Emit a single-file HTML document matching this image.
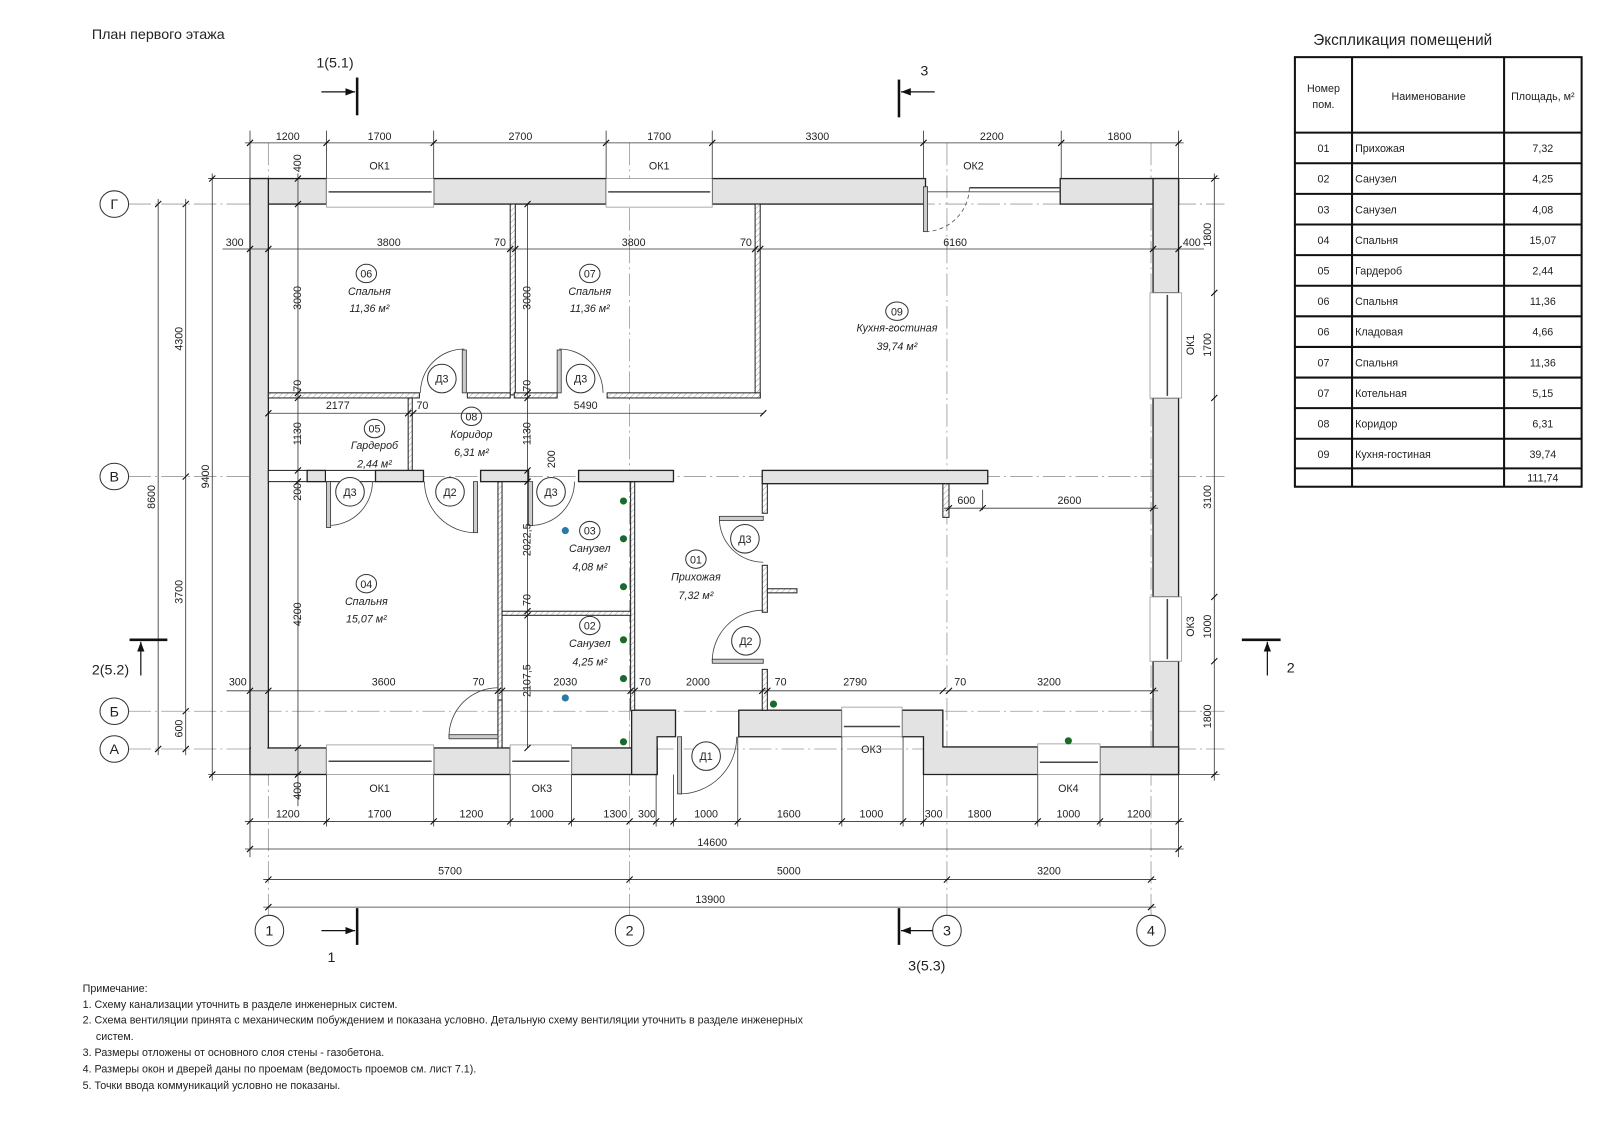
<!DOCTYPE html>
<html><head><meta charset="utf-8"><style>
html,body{margin:0;padding:0;background:#fff;}
svg{display:block;}
text{font-family:"Liberation Sans",sans-serif;fill:#222;}
.d{font-size:10.5px;text-anchor:middle;}
.r{font-size:10.5px;text-anchor:middle;font-style:italic;}
.w{fill:#e3e3e3;stroke:#222;stroke-width:1.3;}
.t{fill:#fff;stroke:#222;stroke-width:1;}
.h{fill:url(#hat);stroke:#222;stroke-width:1;}
.l{stroke:#333;stroke-width:0.8;fill:none;}
.ax{stroke:#999;stroke-width:0.8;stroke-dasharray:22,4,2,4;fill:none;}
.c{fill:#fff;stroke:#333;stroke-width:1;}
.win{fill:#fff;stroke:#999;stroke-width:0.8;}
</style></head><body>
<svg width="1600" height="1130" viewBox="0 0 1568 1107.4" preserveAspectRatio="none" xmlns="http://www.w3.org/2000/svg">
<defs>
<pattern id="hat" width="4" height="4" patternUnits="userSpaceOnUse" patternTransform="rotate(45)">
<rect width="4" height="4" fill="#fff"/><line x1="0" y1="0" x2="0" y2="4" stroke="#888" stroke-width="0.8"/></pattern>
<marker id="ar" markerWidth="8" markerHeight="6" refX="8" refY="3" orient="auto"><path d="M0,0 L8,3 L0,6 z" fill="#111"/></marker>
</defs>

<text x="90" y="38" style="font-size:14px">План первого этажа</text>

<!-- axis lines -->
<g class="ax">
<line x1="126" y1="200" x2="1200" y2="200"/><line x1="126" y1="467" x2="1200" y2="467"/>
<line x1="126" y1="697" x2="1200" y2="697"/><line x1="126" y1="734" x2="1200" y2="734"/>
<line x1="263" y1="140" x2="263" y2="898"/><line x1="617" y1="140" x2="617" y2="898"/>
<line x1="928" y1="140" x2="928" y2="898"/><line x1="1128" y1="140" x2="1128" y2="898"/>
</g>

<!-- outer walls -->
<rect class="w" x="245" y="175" width="75" height="25"/>
<rect class="w" x="425" y="175" width="169" height="25"/>
<rect class="w" x="698" y="175" width="209" height="25"/>
<rect class="w" x="1039" y="175" width="116" height="25"/>
<rect class="w" x="245" y="175" width="18" height="584"/>
<rect class="w" x="1130" y="175" width="25" height="112"/>
<rect class="w" x="1130" y="390" width="25" height="195"/>
<rect class="w" x="1130" y="648" width="25" height="111"/>
<rect class="w" x="245" y="733" width="75" height="26"/>
<rect class="w" x="425" y="733" width="75" height="26"/>
<rect class="w" x="560" y="733" width="84" height="26"/>
<polygon class="w" points="619,696 662,696 662,722 644,722 644,759 619,759"/>
<rect class="w" x="724" y="696" width="101" height="26"/>
<polygon class="w" points="884,696 924,696 924,732 1017,732 1017,759 905,759 905,722 884,722"/>
<rect class="w" x="1078" y="732" width="77" height="27"/>
<rect x="246" y="176" width="16" height="582" fill="#e3e3e3"/>
<rect x="1131" y="176" width="23" height="24" fill="#e3e3e3"/>
<rect x="246" y="734" width="16" height="24" fill="#e3e3e3"/>

<!-- windows -->
<g>
<rect class="win" x="320" y="175" width="105" height="28"/><line x1="322" y1="188" x2="423" y2="188" stroke="#444" stroke-width="1.5"/>
<rect class="win" x="594" y="175" width="104" height="28"/><line x1="596" y1="188" x2="696" y2="188" stroke="#444" stroke-width="1.5"/>
<line x1="950" y1="184" x2="1039" y2="184" stroke="#444" stroke-width="1.5"/><line x1="907" y1="188" x2="1039" y2="188" stroke="#444" stroke-width="0.8"/>
<rect class="win" x="1127" y="287" width="31" height="103"/><line x1="1144" y1="289" x2="1144" y2="388" stroke="#444" stroke-width="1.5"/>
<rect class="win" x="1127" y="585" width="31" height="63"/><line x1="1144" y1="587" x2="1144" y2="646" stroke="#444" stroke-width="1.5"/>
<rect class="win" x="320" y="730" width="105" height="29"/><line x1="322" y1="746" x2="423" y2="746" stroke="#444" stroke-width="1.5"/>
<rect class="win" x="500" y="730" width="60" height="29"/><line x1="502" y1="746" x2="558" y2="746" stroke="#444" stroke-width="1.5"/>
<rect class="win" x="825" y="693" width="59" height="29"/><line x1="827" y1="712" x2="882" y2="712" stroke="#444" stroke-width="1.5"/>
<rect class="win" x="1017" y="729" width="61" height="30"/><line x1="1019" y1="747" x2="1076" y2="747" stroke="#444" stroke-width="1.5"/>
</g>
<!-- OK2 door -->
<rect x="905" y="183" width="4" height="44" fill="#ccc" stroke="#333" stroke-width="0.8"/>
<path d="M907,227 A44,44 0 0 0 950,184" fill="none" stroke="#555" stroke-width="0.8" stroke-dasharray="4,3"/>

<!-- thin partitions -->
<g>
<rect class="h" x="500" y="200" width="5" height="187"/>
<rect class="h" x="740" y="200" width="5" height="190"/>
<rect class="h" x="263" y="385" width="148" height="5"/>
<rect class="h" x="458" y="385" width="42" height="5"/>
<rect class="h" x="504" y="385" width="42" height="5"/>
<rect class="h" x="595" y="385" width="150" height="5"/>
<rect class="h" x="400" y="390" width="4" height="71"/>
<rect class="h" x="488" y="472" width="4" height="261"/>
<rect class="h" x="618" y="472" width="4" height="224"/>
<rect class="h" x="492" y="599" width="126" height="4"/>
<rect class="h" x="747" y="474" width="5" height="29"/>
<rect class="h" x="747" y="554" width="5" height="46"/>
<rect class="h" x="747" y="656" width="5" height="40"/>
<rect class="h" x="752" y="577" width="29" height="4"/>
<rect class="h" x="924" y="474" width="6" height="33"/>
<rect class="h" x="488" y="686" width="4" height="47"/>
</g>
<!-- wall at axis В -->
<rect class="t" x="263" y="461" width="38" height="11"/>
<rect class="w" x="301" y="461" width="18" height="11"/>
<rect class="t" x="319" y="461" width="49" height="11"/>
<rect class="w" x="368" y="461" width="47" height="11"/>
<rect class="w" x="471" y="461" width="47" height="11"/>
<rect class="w" x="567" y="461" width="93" height="11"/>
<rect class="w" x="747" y="461" width="221" height="13"/>

<!-- doors -->
<g fill="none" stroke="#444" stroke-width="0.8">
<path d="M412,385 A43,43 0 0 1 455,342"/>
<path d="M591,385 A43,43 0 0 0 548,342"/>
<path d="M322,515 A43,43 0 0 0 365,472"/>
<path d="M416,472 A50,50 0 0 0 466,522"/>
<path d="M520,515 A43,43 0 0 0 563,472"/>
<path d="M705,508 A43,43 0 0 0 748,551"/>
<path d="M698,648 A50,50 0 0 1 748,598"/>
<path d="M722,722 A56,56 0 0 1 666,778"/>
<path d="M440,722 A48,48 0 0 1 488,674"/>
</g>
<g fill="#ccc" stroke="#333" stroke-width="0.8">
<rect x="453" y="343" width="4" height="42"/>
<rect x="546" y="343" width="4" height="42"/>
<rect x="320" y="472" width="4" height="45"/>
<rect x="464" y="472" width="4" height="50"/>
<rect x="518" y="472" width="4" height="43"/>
<rect x="705" y="506" width="43" height="4"/>
<rect x="698" y="646" width="50" height="4"/>
<rect x="664" y="722" width="4" height="56"/>
<rect x="440" y="720" width="48" height="4"/>
</g>
<g>
<circle class="c" cx="433" cy="371" r="14"/><text class="d" x="433" y="375">Д3</text>
<circle class="c" cx="569" cy="371" r="14"/><text class="d" x="569" y="375">Д3</text>
<circle class="c" cx="343" cy="482" r="14"/><text class="d" x="343" y="486">Д3</text>
<circle class="c" cx="441" cy="482" r="14"/><text class="d" x="441" y="486">Д2</text>
<circle class="c" cx="540" cy="482" r="14"/><text class="d" x="540" y="486">Д3</text>
<circle class="c" cx="730" cy="528" r="14"/><text class="d" x="730" y="532">Д3</text>
<circle class="c" cx="731" cy="628" r="14"/><text class="d" x="731" y="632">Д2</text>
<circle class="c" cx="692" cy="741" r="14"/><text class="d" x="692" y="745">Д1</text>
</g>

<!-- dots -->
<g fill="#1a6b2a"><circle cx="611" cy="491" r="3.5"/><circle cx="611" cy="528" r="3.5"/><circle cx="611" cy="575" r="3.5"/><circle cx="611" cy="627" r="3.5"/><circle cx="611" cy="665" r="3.5"/><circle cx="611" cy="727" r="3.5"/><circle cx="758" cy="690" r="3.5"/><circle cx="1047" cy="726" r="3.5"/></g>
<g fill="#2a7aa8"><circle cx="554" cy="520" r="3.5"/><circle cx="554" cy="684" r="3.5"/></g>

<!-- room labels -->
<g>
<ellipse class="c" cx="359" cy="268" rx="10" ry="9"/><text class="d" x="359" y="272">06</text>
<text class="r" x="362" y="289">Спальня</text><text class="r" x="362" y="306">11,36 м²</text>
<ellipse class="c" cx="578" cy="268" rx="10" ry="9"/><text class="d" x="578" y="272">07</text>
<text class="r" x="578" y="289">Спальня</text><text class="r" x="578" y="306">11,36 м²</text>
<ellipse class="c" cx="879" cy="305" rx="11" ry="9"/><text class="d" x="879" y="309">09</text>
<text class="r" x="879" y="325">Кухня-гостиная</text><text class="r" x="879" y="343">39,74 м²</text>
<ellipse class="c" cx="367" cy="420" rx="10" ry="9"/><text class="d" x="367" y="424">05</text>
<text class="r" x="367" y="440">Гардероб</text><text class="r" x="367" y="458">2,44 м²</text>
<ellipse class="c" cx="462" cy="408" rx="10" ry="9"/><text class="d" x="462" y="412">08</text>
<text class="r" x="462" y="429">Коридор</text><text class="r" x="462" y="447">6,31 м²</text>
<ellipse class="c" cx="578" cy="520" rx="10" ry="9"/><text class="d" x="578" y="524">03</text>
<text class="r" x="578" y="541">Санузел</text><text class="r" x="578" y="559">4,08 м²</text>
<ellipse class="c" cx="578" cy="613" rx="10" ry="9"/><text class="d" x="578" y="617">02</text>
<text class="r" x="578" y="634">Санузел</text><text class="r" x="578" y="652">4,25 м²</text>
<ellipse class="c" cx="682" cy="548" rx="10" ry="9"/><text class="d" x="682" y="552">01</text>
<text class="r" x="682" y="569">Прихожая</text><text class="r" x="682" y="587">7,32 м²</text>
<ellipse class="c" cx="359" cy="572" rx="10" ry="9"/><text class="d" x="359" y="576">04</text>
<text class="r" x="359" y="593">Спальня</text><text class="r" x="359" y="610">15,07 м²</text>
</g>

<!-- dimension lines -->
<g class="l">
<line x1="240" y1="140" x2="1160" y2="140"/>
<line x1="245" y1="128" x2="245" y2="175"/><line x1="320" y1="128" x2="320" y2="175"/><line x1="425" y1="128" x2="425" y2="175"/><line x1="594" y1="128" x2="594" y2="175"/><line x1="698" y1="128" x2="698" y2="175"/><line x1="905" y1="128" x2="905" y2="175"/><line x1="1040" y1="128" x2="1040" y2="175"/><line x1="1155" y1="128" x2="1155" y2="175"/>
<line x1="218" y1="244" x2="1180" y2="244"/>
<line x1="263" y1="405" x2="748" y2="405"/>
<line x1="925" y1="498" x2="1135" y2="498"/><line x1="963" y1="480" x2="963" y2="500"/>
<line x1="222" y1="677" x2="1135" y2="677"/>
<line x1="292" y1="170" x2="292" y2="790"/>
<line x1="517" y1="200" x2="517" y2="733"/>
<line x1="1190" y1="170" x2="1190" y2="765"/>
<line x1="1155" y1="175" x2="1195" y2="175"/><line x1="1155" y1="759" x2="1195" y2="759"/>
<line x1="155" y1="195" x2="155" y2="740"/><line x1="182" y1="195" x2="182" y2="740"/><line x1="208" y1="170" x2="208" y2="765"/>
<line x1="204" y1="175" x2="245" y2="175"/><line x1="204" y1="759" x2="245" y2="759"/>
<line x1="240" y1="805" x2="1160" y2="805"/>
<line x1="245" y1="759" x2="245" y2="840"/><line x1="320" y1="759" x2="320" y2="810"/><line x1="425" y1="759" x2="425" y2="810"/><line x1="500" y1="759" x2="500" y2="810"/><line x1="560" y1="759" x2="560" y2="810"/><line x1="643" y1="759" x2="643" y2="810"/><line x1="660" y1="759" x2="660" y2="810"/><line x1="723" y1="722" x2="723" y2="810"/><line x1="825" y1="722" x2="825" y2="810"/><line x1="885" y1="722" x2="885" y2="810"/><line x1="905" y1="759" x2="905" y2="810"/><line x1="1017" y1="759" x2="1017" y2="810"/><line x1="1078" y1="759" x2="1078" y2="810"/><line x1="1155" y1="759" x2="1155" y2="840"/>
<line x1="240" y1="832" x2="1160" y2="832"/>
<line x1="258" y1="862" x2="1133" y2="862"/>
<line x1="258" y1="889" x2="1133" y2="889"/>
</g>
<!-- ticks -->
<g stroke="#111" stroke-width="1.1">
<path d="M242,143l6,-6M317,143l6,-6M422,143l6,-6M591,143l6,-6M695,143l6,-6M902,143l6,-6M1037,143l6,-6M1152,143l6,-6"/>
<path d="M242,247l6,-6M260,247l6,-6M497,247l6,-6M502,247l6,-6M737,247l6,-6M742,247l6,-6M1127,247l6,-6M1152,247l6,-6"/>
<path d="M260,408l6,-6M397,408l6,-6M402,408l6,-6M745,408l6,-6"/>
<path d="M927,501l6,-6M960,501l6,-6M1127,501l6,-6"/>
<path d="M242,680l6,-6M260,680l6,-6M485,680l6,-6M489,680l6,-6M615,680l6,-6M619,680l6,-6M744,680l6,-6M749,680l6,-6M921,680l6,-6M927,680l6,-6M1127,680l6,-6"/>
<path d="M289,178l6,-6M289,203l6,-6M289,388l6,-6M289,393l6,-6M289,464l6,-6M289,475l6,-6M289,736l6,-6M289,762l6,-6"/>
<path d="M514,203l6,-6M514,388l6,-6M514,393l6,-6M514,464l6,-6M514,475l6,-6M514,602l6,-6M514,606l6,-6M514,736l6,-6"/>
<path d="M1187,178l6,-6M1187,290l6,-6M1187,393l6,-6M1187,588l6,-6M1187,651l6,-6M1187,762l6,-6"/>
<path d="M152,203l6,-6M152,737l6,-6M179,203l6,-6M179,470l6,-6M179,700l6,-6M179,737l6,-6M205,178l6,-6M205,762l6,-6"/>
<path d="M242,808l6,-6M317,808l6,-6M422,808l6,-6M497,808l6,-6M557,808l6,-6M614,808l6,-6M640,808l6,-6M657,808l6,-6M720,808l6,-6M822,808l6,-6M882,808l6,-6M902,808l6,-6M1014,808l6,-6M1075,808l6,-6M1152,808l6,-6"/>
<path d="M242,835l6,-6M1152,835l6,-6M260,865l6,-6M614,865l6,-6M925,865l6,-6M1125,865l6,-6M260,892l6,-6M1125,892l6,-6"/>
</g>

<!-- dimension texts -->
<g class="d">
<text x="282" y="137">1200</text><text x="372" y="137">1700</text><text x="510" y="137">2700</text><text x="646" y="137">1700</text><text x="801" y="137">3300</text><text x="972" y="137">2200</text><text x="1097" y="137">1800</text>
<text x="372" y="166">ОК1</text><text x="646" y="166">ОК1</text><text x="954" y="166">ОК2</text>
<text x="230" y="241">300</text><text x="381" y="241">3800</text><text x="490" y="241">70</text><text x="621" y="241">3800</text><text x="731" y="241">70</text><text x="936" y="241">6160</text><text x="1168" y="241">400</text>
<text x="331" y="401">2177</text><text x="414" y="401">70</text><text x="574" y="401">5490</text>
<text x="947" y="494">600</text><text x="1048" y="494">2600</text>
<text x="233" y="672">300</text><text x="376" y="672">3600</text><text x="469" y="672">70</text><text x="554" y="672">2030</text><text x="632" y="672">70</text><text x="684" y="672">2000</text><text x="765" y="672">70</text><text x="838" y="672">2790</text><text x="941" y="672">70</text><text x="1028" y="672">3200</text>
<text x="854" y="738">ОК3</text>
<text x="372" y="776">ОК1</text><text x="531" y="776">ОК3</text><text x="1047" y="776">ОК4</text>
<text x="282" y="801">1200</text><text x="372" y="801">1700</text><text x="462" y="801">1200</text><text x="531" y="801">1000</text><text x="603" y="801">1300</text><text x="634" y="801">300</text><text x="692" y="801">1000</text><text x="773" y="801">1600</text><text x="854" y="801">1000</text><text x="915" y="801">300</text><text x="960" y="801">1800</text><text x="1047" y="801">1000</text><text x="1116" y="801">1200</text>
<text x="698" y="829">14600</text>
<text x="441" y="857">5700</text><text x="773" y="857">5000</text><text x="1028" y="857">3200</text>
<text x="696" y="885">13900</text>
</g>
<g class="d">
<text transform="translate(291,160) rotate(-90)" y="4">400</text>
<text transform="translate(291,292) rotate(-90)" y="4">3000</text>
<text transform="translate(291,378) rotate(-90)" y="4">70</text>
<text transform="translate(291,425) rotate(-90)" y="4">1130</text>
<text transform="translate(291,482) rotate(-90)" y="4">200</text>
<text transform="translate(291,602) rotate(-90)" y="4">4200</text>
<text transform="translate(291,775) rotate(-90)" y="4">400</text>
<text transform="translate(516,292) rotate(-90)" y="4">3000</text>
<text transform="translate(516,378) rotate(-90)" y="4">70</text>
<text transform="translate(516,425) rotate(-90)" y="4">1130</text>
<text transform="translate(540,450) rotate(-90)" y="4">200</text>
<text transform="translate(516,529) rotate(-90)" y="4">2022,5</text>
<text transform="translate(516,588) rotate(-90)" y="4">70</text>
<text transform="translate(516,667) rotate(-90)" y="4">2107,5</text>
<text transform="translate(1183,230) rotate(-90)" y="4">1800</text>
<text transform="translate(1183,338) rotate(-90)" y="4">1700</text>
<text transform="translate(1166,338) rotate(-90)" y="4">ОК1</text>
<text transform="translate(1183,487) rotate(-90)" y="4">3100</text>
<text transform="translate(1183,614) rotate(-90)" y="4">1000</text>
<text transform="translate(1166,614) rotate(-90)" y="4">ОК3</text>
<text transform="translate(1183,702) rotate(-90)" y="4">1800</text>
<text transform="translate(175,332) rotate(-90)" y="4">4300</text>
<text transform="translate(201,467) rotate(-90)" y="4">9400</text>
<text transform="translate(148,487) rotate(-90)" y="4">8600</text>
<text transform="translate(175,580) rotate(-90)" y="4">3700</text>
<text transform="translate(175,714) rotate(-90)" y="4">600</text>
</g>

<!-- axis bubbles -->
<g style="font-size:14px">
<ellipse class="c" cx="112" cy="200" rx="14" ry="13"/><text class="d" style="font-size:14px" x="112" y="205">Г</text>
<ellipse class="c" cx="112" cy="467" rx="14" ry="13"/><text class="d" style="font-size:14px" x="112" y="472">В</text>
<ellipse class="c" cx="112" cy="697" rx="14" ry="13"/><text class="d" style="font-size:14px" x="112" y="702">Б</text>
<ellipse class="c" cx="112" cy="734" rx="14" ry="13"/><text class="d" style="font-size:14px" x="112" y="739">А</text>
<ellipse class="c" cx="264" cy="912" rx="14" ry="15"/><text class="d" style="font-size:14px" x="264" y="917">1</text>
<ellipse class="c" cx="617" cy="912" rx="14" ry="15"/><text class="d" style="font-size:14px" x="617" y="917">2</text>
<ellipse class="c" cx="928" cy="912" rx="14" ry="15"/><text class="d" style="font-size:14px" x="928" y="917">3</text>
<ellipse class="c" cx="1128" cy="912" rx="14" ry="15"/><text class="d" style="font-size:14px" x="1128" y="917">4</text>
</g>

<!-- section marks -->
<g stroke="#111" fill="none">
<line x1="350" y1="76" x2="350" y2="113" stroke-width="2.5"/><line x1="315" y1="90" x2="348" y2="90" stroke-width="1.2" marker-end="url(#ar)"/>
<line x1="881" y1="78" x2="881" y2="115" stroke-width="2.5"/><line x1="916" y1="90" x2="883" y2="90" stroke-width="1.2" marker-end="url(#ar)"/>
<line x1="350" y1="890" x2="350" y2="926" stroke-width="2.5"/><line x1="315" y1="912" x2="348" y2="912" stroke-width="1.2" marker-end="url(#ar)"/>
<line x1="881" y1="890" x2="881" y2="926" stroke-width="2.5"/><line x1="914" y1="912" x2="883" y2="912" stroke-width="1.2" marker-end="url(#ar)"/>
<line x1="127" y1="627" x2="164" y2="627" stroke-width="2.5"/><line x1="138" y1="662" x2="138" y2="629" stroke-width="1.2" marker-end="url(#ar)"/>
<line x1="1217" y1="627" x2="1255" y2="627" stroke-width="2.5"/><line x1="1242" y1="662" x2="1242" y2="629" stroke-width="1.2" marker-end="url(#ar)"/>
</g>
<g style="font-size:14px">
<text x="310" y="66">1(5.1)</text><text x="902" y="74">3</text>
<text x="321" y="943">1</text><text x="890" y="951">3(5.3)</text>
<text x="90" y="661">2(5.2)</text><text x="1261" y="659">2</text>
</g>

<!-- notes -->
<g style="font-size:10.5px">
<text x="81" y="972">Примечание:</text>
<text x="81" y="988">1.  Схему канализации уточнить в разделе инженерных систем.</text>
<text x="81" y="1003">2.  Схема вентиляции принята с механическим побуждением и показана условно. Детальную схему вентиляции уточнить в разделе инженерных</text>
<text x="94" y="1019">систем.</text>
<text x="81" y="1035">3.  Размеры отложены от основного слоя стены - газобетона.</text>
<text x="81" y="1051">4.  Размеры окон и дверей даны по проемам (ведомость проемов см. лист 7.1).</text>
<text x="81" y="1067">5.  Точки ввода коммуникаций условно не показаны.</text>
</g>

<!-- table -->
<text x="1287" y="44" style="font-size:15px">Экспликация помещений</text>
<g stroke="#111" stroke-width="2" fill="none">
<rect x="1269" y="56" width="281" height="421"/>
<line x1="1325" y1="56" x2="1325" y2="477"/><line x1="1474" y1="56" x2="1474" y2="477"/>
<line x1="1269" y1="130" x2="1550" y2="130"/>
<line x1="1269" y1="160" x2="1550" y2="160"/><line x1="1269" y1="190" x2="1550" y2="190"/><line x1="1269" y1="220" x2="1550" y2="220"/><line x1="1269" y1="250" x2="1550" y2="250"/><line x1="1269" y1="280" x2="1550" y2="280"/><line x1="1269" y1="310" x2="1550" y2="310"/><line x1="1269" y1="340" x2="1550" y2="340"/><line x1="1269" y1="370" x2="1550" y2="370"/><line x1="1269" y1="400" x2="1550" y2="400"/><line x1="1269" y1="430" x2="1550" y2="430"/><line x1="1269" y1="459" x2="1550" y2="459"/>
</g>
<g style="font-size:10.5px">
<text class="d" x="1297" y="90">Номер</text><text class="d" x="1297" y="106">пом.</text>
<text class="d" x="1400" y="98">Наименование</text><text class="d" x="1512" y="98">Площадь, м²</text>
<text class="d" x="1297" y="149">01</text><text x="1328" y="149">Прихожая</text><text class="d" x="1512" y="149">7,32</text>
<text class="d" x="1297" y="179">02</text><text x="1328" y="179">Санузел</text><text class="d" x="1512" y="179">4,25</text>
<text class="d" x="1297" y="209">03</text><text x="1328" y="209">Санузел</text><text class="d" x="1512" y="209">4,08</text>
<text class="d" x="1297" y="239">04</text><text x="1328" y="239">Спальня</text><text class="d" x="1512" y="239">15,07</text>
<text class="d" x="1297" y="269">05</text><text x="1328" y="269">Гардероб</text><text class="d" x="1512" y="269">2,44</text>
<text class="d" x="1297" y="299">06</text><text x="1328" y="299">Спальня</text><text class="d" x="1512" y="299">11,36</text>
<text class="d" x="1297" y="329">06</text><text x="1328" y="329">Кладовая</text><text class="d" x="1512" y="329">4,66</text>
<text class="d" x="1297" y="359">07</text><text x="1328" y="359">Спальня</text><text class="d" x="1512" y="359">11,36</text>
<text class="d" x="1297" y="389">07</text><text x="1328" y="389">Котельная</text><text class="d" x="1512" y="389">5,15</text>
<text class="d" x="1297" y="419">08</text><text x="1328" y="419">Коридор</text><text class="d" x="1512" y="419">6,31</text>
<text class="d" x="1297" y="449">09</text><text x="1328" y="449">Кухня-гостиная</text><text class="d" x="1512" y="449">39,74</text>
<text class="d" x="1512" y="472">111,74</text>
</g>
</svg>
</body></html>
